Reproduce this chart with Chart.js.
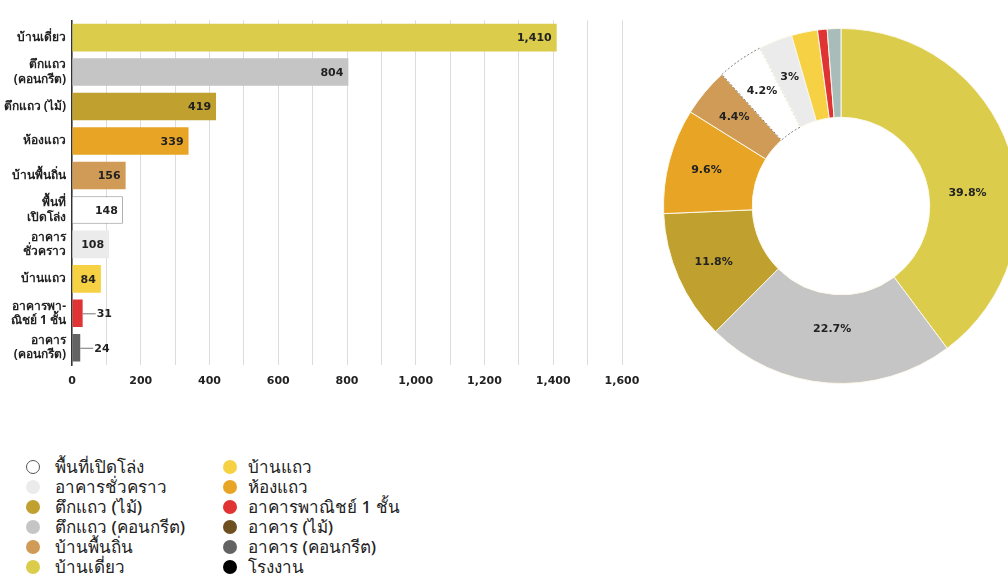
<!DOCTYPE html>
<html><head><meta charset="utf-8">
<script src="https://cdn.jsdelivr.net/npm/chart.js@4"></script>
<style>
html,body{margin:0;padding:0;background:#fff;width:1008px;height:583px;overflow:hidden;position:relative;font-family:"Noto Sans","DejaVu Sans",sans-serif;}
#barWrap{position:absolute;left:0;top:0;width:650px;height:400px;}
#donutWrap{position:absolute;left:663px;top:28px;width:356px;height:356px;}
.item{position:absolute;white-space:nowrap;font-size:17px;font-weight:500;color:#222;line-height:20px;}
.dot{position:absolute;width:14px;height:14px;border-radius:50%;box-sizing:border-box;}
</style></head>
<body>
<div id="barWrap"><canvas id="bar"></canvas></div>
<div id="donutWrap"><canvas id="donut"></canvas></div>
<div id="legend"></div>
<script>
// ---- data ----
const categories = ['บ้านเดี่ยว', ['ตึกแถว','(คอนกรีต)'], 'ตึกแถว (ไม้)', 'ห้องแถว', 'บ้านพื้นถิ่น', ['พื้นที่','เปิดโล่ง'], ['อาคาร','ชั่วคราว'], 'บ้านแถว', ['อาคารพา-','ณิชย์ 1 ชั้น'], ['อาคาร','(คอนกรีต)']];
const buildingCounts = [1410, 804, 419, 339, 156, 148, 108, 84, 31, 24];
const barColors = ['#dccc4c', '#c6c5c5', '#c0a02f', '#e8a425', '#cf9b56', '#ffffff', '#ebebeb', '#f6d143', '#e03434', '#636363'];
const xTickLabels = ['0', '200', '400', '600', '800', '1,000', '1,200', '1,400', '1,600'];
const xTickValues = [0, 200, 400, 600, 800, 1000, 1200, 1400, 1600];

const donutLabels = ['บ้านเดี่ยว', 'ตึกแถว (คอนกรีต)', 'ตึกแถว (ไม้)', 'ห้องแถว', 'บ้านพื้นถิ่น', 'พื้นที่เปิดโล่ง', 'อาคารชั่วคราว', 'บ้านแถว', 'อาคารพาณิชย์ 1 ชั้น', 'อื่นๆ'];
const donutValues = [1410, 804, 419, 339, 156, 148, 108, 84, 31, 44];
const donutPercentLabels = ['39.8%', '22.7%', '11.8%', '9.6%', '4.4%', '4.2%', '3%', '', '', ''];
const donutColors = ['#dccc4c', '#c6c5c5', '#c0a02f', '#e8a425', '#cf9b56', '#ffffff', '#ebebeb', '#f6d143', '#e03434', '#a8bdb9'];

const legendLabels = ['พื้นที่เปิดโล่ง', 'อาคารชั่วคราว', 'ตึกแถว (ไม้)', 'ตึกแถว (คอนกรีต)', 'บ้านพื้นถิ่น', 'บ้านเดี่ยว', 'บ้านแถว', 'ห้องแถว', 'อาคารพาณิชย์ 1 ชั้น', 'อาคาร (ไม้)', 'อาคาร (คอนกรีต)', 'โรงงาน'];
const legendColors = ['#ffffff', '#ebebeb', '#c0a02f', '#c6c5c5', '#cf9b56', '#dccc4c', '#f6d143', '#e8a425', '#e03434', '#6e5020', '#636363', '#000000'];

// ---- legend ----
legendLabels.forEach((t, i) => {
  const col = Math.floor(i / 6), row = i % 6;
  const y = 457 + row * 20;
  const d = document.createElement('div');
  d.className = 'dot';
  d.style.left = (col ? 223 : 26) + 'px';
  d.style.top = (y + 3) + 'px';
  d.style.background = legendColors[i];
  if (legendColors[i] === '#ffffff') d.style.border = '1.3px solid #555';
  document.body.appendChild(d);
  const s = document.createElement('div');
  s.className = 'item';
  s.style.left = (col ? 248 : 55) + 'px';
  s.style.top = y + 'px';
  s.textContent = t;
  document.body.appendChild(s);
});

// ---- bar chart ----
const barLabelPlugin = {
  id: 'barLabels',
  afterDatasetsDraw(chart) {
    const ctx = chart.ctx;
    const meta = chart.getDatasetMeta(0);
    ctx.save();
    ctx.font = 'bold 11px "DejaVu Sans"';
    ctx.fillStyle = '#222';
    ctx.textBaseline = 'middle';
    meta.data.forEach((bar, i) => {
      const v = chart.data.datasets[0].data[i];
      const txt = v.toLocaleString('en-US');
      if (v >= 60) {
        ctx.textAlign = 'right';
        ctx.fillText(txt, bar.x - 5, bar.y + 1);
      } else {
        ctx.strokeStyle = '#777';
        ctx.lineWidth = 1;
        ctx.beginPath();
        ctx.moveTo(bar.x, bar.y + 0.5);
        ctx.lineTo(bar.x + 13, bar.y + 0.5);
        ctx.stroke();
        ctx.textAlign = 'left';
        ctx.fillText(txt, bar.x + 14, bar.y + 1);
      }
    });
    ctx.restore();
  }
};

new Chart(document.getElementById('bar'), {
  type: 'bar',
  data: {
    labels: categories,
    datasets: [{
      data: buildingCounts,
      backgroundColor: barColors,
      borderColor: barColors.map(c => c === '#ffffff' ? '#999' : c),
      borderWidth: barColors.map(c => c === '#ffffff' ? 1 : 0),
      barPercentage: 0.8,
      categoryPercentage: 1
    }]
  },
  options: {
    indexAxis: 'y',
    responsive: true,
    maintainAspectRatio: false,
    animation: false,
    devicePixelRatio: 1,
    layout: { padding: { top: 14, right: 28, left: 0, bottom: 0 } },
    plugins: { legend: { display: false }, tooltip: { enabled: false } },
    scales: {
      x: {
        min: 0, max: 1600,
        afterFit(s) { s.height = 35; },
        afterBuildTicks(s) { const t = []; for (let v = 0; v <= 1600; v += 100) t.push({ value: v }); s.ticks = t; },
        ticks: {
          autoSkip: false, maxRotation: 0, padding: 10,
          color: '#222', font: { family: 'DejaVu Sans', size: 11, weight: 'bold' },
          callback: (v) => { const k = xTickValues.indexOf(v); return k >= 0 ? xTickLabels[k] : ''; }
        },
        grid: { color: '#dcdcdc', lineWidth: 1, drawTicks: false },
        border: { display: false }
      },
      y: {
        afterFit(s) { s.width = 72; },
        ticks: {
          color: '#222', padding: 6,
          font: { family: 'Noto Sans', size: 12, weight: 'bold', lineHeight: 1.2 }
        },
        grid: { display: false, drawTicks: false },
        border: { display: true, color: '#333', width: 1.5 }
      }
    }
  },
  plugins: [barLabelPlugin]
});

// ---- donut ----
const donutLabelPlugin = {
  id: 'donutLabels',
  afterDatasetsDraw(chart) {
    const ctx = chart.ctx;
    const meta = chart.getDatasetMeta(0);
    ctx.save();
    ctx.font = 'bold 11px "DejaVu Sans"';
    ctx.fillStyle = '#222';
    ctx.textAlign = 'center';
    ctx.textBaseline = 'middle';
    meta.data.forEach((arc, i) => {
      const t = donutPercentLabels[i];
      if (!t) return;
      let mid = (arc.startAngle + arc.endAngle) / 2;
      let r = (arc.innerRadius + arc.outerRadius) / 2 + 6;
      // keep the label of a slice that runs off the right edge inside the visible part
      if (i === 0) { mid += 0.22; r -= 12; }
      if (i === 1) { r -= 16; }
      ctx.fillText(t, arc.x + Math.cos(mid) * r, arc.y + Math.sin(mid) * r);
    });
    ctx.restore();
  }
};

new Chart(document.getElementById('donut'), {
  type: 'doughnut',
  data: {
    labels: donutLabels,
    datasets: [{
      data: donutValues,
      backgroundColor: donutColors,
      borderColor: donutColors.map(c => c === '#ffffff' ? '#777' : '#fbf8ea'),
      borderWidth: 1,
      borderDash: (ctx) => donutColors[ctx.dataIndex] === '#ffffff' ? [2, 2] : [],
      hoverOffset: 0,
      offset: 0
    }]
  },
  options: {
    responsive: true,
    maintainAspectRatio: false,
    animation: false,
    devicePixelRatio: 1,
    cutout: '50%',
    layout: { padding: 0 },
    plugins: { legend: { display: false }, tooltip: { enabled: false } }
  },
  plugins: [donutLabelPlugin]
});
</script>
</body></html>
